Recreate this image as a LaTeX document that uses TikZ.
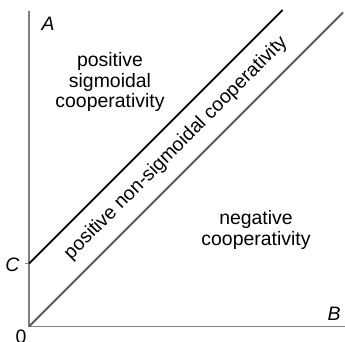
\documentclass[tikz,border=0pt]{standalone}
\usepackage{fontspec}
\setmainfont{Liberation Sans}
\usetikzlibrary{calc}

\begin{document}
\begin{tikzpicture}[
  x=1bp,y=1bp,
  every node/.style={font=\fontsize{19.5}{20.5}\selectfont},
  axis/.style={draw=black!50,line width=1.3bp},
  bound/.style={line width=1.8bp},
  region/.style={align=center,inner sep=0pt}
]
\useasboundingbox (0,0) rectangle (345,342);
\coordinate (O) at (29,15.5);
\coordinate (C) at (29,78.3);
\coordinate (Ctick) at (25,78.3);
\coordinate (Atop) at (29,331);
\coordinate (Bend) at (345,15.5);
\coordinate (Cend) at ($(C)+(253.7,253.7)$);
\coordinate (Oend) at ($(O)+(314,314)$);
% axes
\draw[axis] (Atop) -- (O) -- (Bend);
\draw[axis] (Ctick) -- (C);
% boundary lines
\draw[bound,black!65] (O) -- (Oend);
\draw[bound,black] (C) -- (Cend);
% axis labels
\node (labA) at (48,318) {\itshape A};
\node (labB) at (334,28) {\itshape B};
\node (labC) at (12.5,77) {\itshape C};
\node (lab0) at (21,5) {0};
% regions
\node[region] (sigm) at (110,260) {positive\\sigmoidal\\cooperativity};
\node[region] (neg) at (256,112) {negative\\cooperativity};
\node[region,rotate=45] (nonsig) at ($($(C)!0.5!(O)$)+(147,147)$) {positive non-sigmoidal cooperativity};
\end{tikzpicture}
\end{document}
